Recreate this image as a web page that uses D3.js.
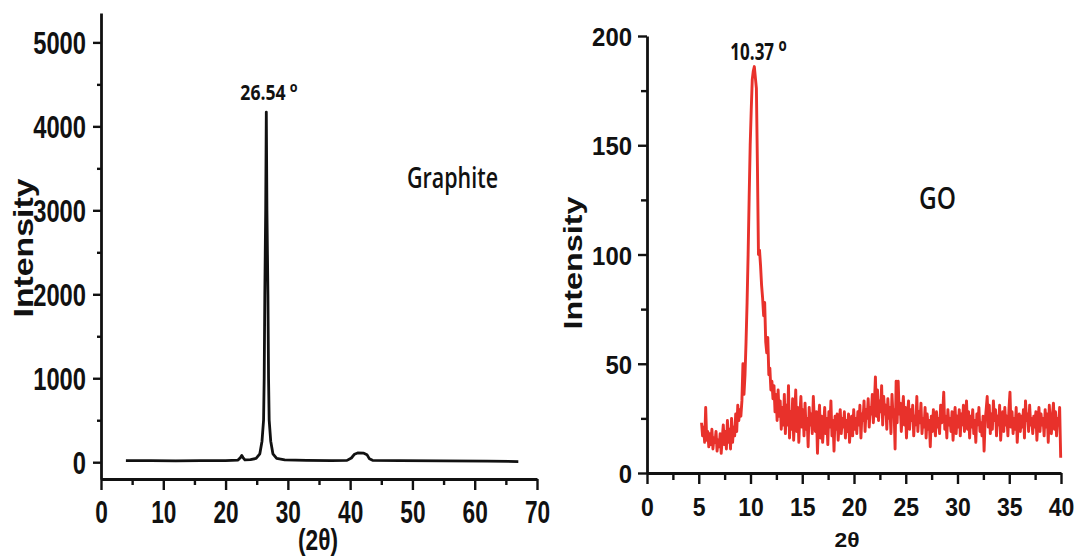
<!DOCTYPE html>
<html>
<head>
<meta charset="utf-8">
<script src="https://cdn.jsdelivr.net/npm/d3@7"></script>
<style>
  body { margin: 0; background: #fff; }
  svg { display: block; }
</style>
</head>
<body>
<svg id="chart" width="1078" height="557"></svg>
<script>
// ---------- Graphite XRD pattern: [2θ (deg), intensity (counts)] ----------
const graphiteScan = [
  [4.0, 20], [8, 18], [12, 17], [16, 18], [20, 20], [22.0, 25], [22.4, 55], [22.6, 80],
  [22.8, 55], [23.1, 28], [24.0, 30], [24.9, 45], [25.5, 100], [25.85, 250], [26.1, 500],
  [26.2, 1000], [26.3, 2000], [26.44, 3000], [26.54, 4170], [26.64, 3000], [26.8, 2000],
  [26.9, 1000], [27.0, 500], [27.25, 250], [27.6, 100], [28.2, 45], [29.5, 28], [33, 22],
  [37, 20], [39.5, 22], [40.2, 50], [40.7, 95], [41.2, 110], [42.2, 108], [42.7, 90],
  [43.1, 40], [43.6, 22], [48, 18], [55, 16], [62, 14], [67, 8]
];
const graphitePeak = 26.54;

// ---------- GO XRD pattern, sampled every 0.1° starting at 5.27° ----------
const goStart = 5.27;
const goStep = 0.1;
const goIntensity = [
  23, 17, 21, 14, 30, 15, 19, 12, 18, 13,
  20, 11, 16, 14, 19, 10, 15, 12, 18, 9,
  16, 22, 13, 19, 11, 24, 14, 20, 11, 25,
  14, 21, 17, 27, 19, 31, 24, 29, 26, 33,
  50, 36, 45, 60, 78, 100, 126, 150, 166, 180,
  184, 186, 181, 176, 140, 100, 102, 95, 86, 80,
  72, 78, 60, 55, 62, 45, 48, 38, 42, 34,
  40, 28, 36, 24, 38, 26, 33, 20, 30, 22,
  36, 18, 31, 22, 40, 16, 28, 20, 34, 15,
  26, 38, 19, 30, 14, 27, 35, 21, 29, 17,
  32, 20, 25, 12, 30, 22, 27, 18, 35, 24,
  19, 28, 9, 24, 31, 16, 26, 14, 22, 30,
  18, 25, 13, 28, 21, 33, 17, 24, 10, 26,
  20, 27, 15, 23, 29, 18, 25, 21, 28, 16,
  24, 19, 27, 14, 22, 26, 17, 29, 20, 25,
  18, 28, 22, 31, 16, 27, 24, 33, 19, 29,
  25, 34, 21, 30, 27, 36, 23, 32, 44, 26,
  38, 24, 33, 28, 40, 22, 35, 27, 31, 20,
  34, 25, 30, 18, 36, 26, 29, 11, 42, 23,
  42, 27, 32, 19, 28, 35, 22, 30, 16, 27,
  33, 20, 29, 24, 31, 17, 26, 22, 35, 19,
  28, 23, 32, 18, 25, 21, 30, 16, 27, 20,
  24, 12, 26, 19, 29, 22, 17, 28, 21, 25,
  18, 31, 23, 27, 37, 20, 26, 16, 29, 22,
  25, 19, 28, 15, 24, 30, 18, 26, 21, 29,
  17, 27, 22, 31, 19, 25, 33, 20, 28, 16,
  26, 21, 29, 18, 24, 14, 27, 22, 30, 19,
  23, 17, 26, 10, 24, 29, 35, 21, 31, 18,
  27, 20, 33, 24, 29, 17, 26, 22, 31, 15,
  24, 28, 19, 30, 22, 26, 17, 29, 37, 21,
  28, 18, 25, 20, 30, 14, 23, 27, 19, 26,
  21, 29, 16, 33, 24, 27, 19, 31, 22, 25,
  18, 26, 21, 28, 15, 24, 30, 19, 27, 22,
  25, 17, 29, 21, 27, 14, 31, 23, 18, 26,
  32, 20, 28, 17, 25, 22, 30, 7
];
const goPeak = 10.37;

// ---------- Tick values ----------
const graphiteXTicks = [0, 10, 20, 30, 40, 50, 60, 70];
const graphiteXMinor = [5, 15, 25, 35, 45, 55, 65];
const graphiteYTicks = [0, 1000, 2000, 3000, 4000, 5000];
const graphiteYMinor = [500, 1500, 2500, 3500, 4500];
const goXTicks = [0, 5, 10, 15, 20, 25, 30, 35, 40];
const goXMinor = [2.5, 7.5, 12.5, 17.5, 22.5, 27.5, 32.5, 37.5];
const goYTicks = [0, 50, 100, 150, 200];
const goYMinor = [25, 75, 125, 175];

// ---------- Text ----------
const yTitle = "Intensity";
const graphiteXTitle = "(2θ)";
const goXTitle = "2θ";
const graphiteName = "Graphite";
const goName = "GO";

const svg = d3.select("#chart");
const AXIS_FONT = "'Liberation Sans', Arial, sans-serif";
const NOTE_FONT = "'Open Sans', 'Noto Sans', sans-serif";
const INK = "#111";

function styleAxis(g, width) {
  g.select(".domain").attr("stroke", INK).attr("stroke-width", width);
  g.selectAll(".tick line").attr("stroke", INK).attr("stroke-width", 2.4);
}

function minorTicks(g) {
  g.select(".domain").remove();
  g.selectAll(".tick line").attr("stroke", INK).attr("stroke-width", 2.4);
}

// Condensed bold tick labels: width per character fixed through textLength
function styleLabels(g, size, charW, opts) {
  g.selectAll(".tick text")
    .attr("fill", INK)
    .style("font-family", AXIS_FONT)
    .style("font-weight", "bold")
    .style("font-size", size + "px")
    .attr("textLength", function () { return this.textContent.length * charW; })
    .attr("lengthAdjust", "spacingAndGlyphs")
    .each(function () {
      const t = d3.select(this);
      if (opts.x !== undefined) t.attr("x", opts.x);
      if (opts.y !== undefined) t.attr("y", opts.y);
      t.attr("dy", opts.dy);
    });
}

// Peak position label with a raised small "o" as the degree mark
function peakLabel(value, x, y, size, sx, oSize, oDx, oDy) {
  const t = svg.append("text")
    .attr("transform", `translate(${x},${y}) scale(${sx},1)`)
    .style("font-family", NOTE_FONT).style("font-weight", "bold")
    .style("font-size", size + "px")
    .attr("fill", INK);
  t.append("tspan").text(value.toFixed(2));
  t.append("tspan").text("o")
    .attr("dx", oDx).attr("dy", oDy)
    .style("font-size", oSize + "px");
}

// ================= Graphite panel =================
{
  const x = d3.scaleLinear().domain([0, 70]).range([101, 537]);
  const y = d3.scaleLinear().domain([-200, 5350]).range([479, 13]);

  svg.append("g").attr("transform", "translate(0,479)")
    .call(d3.axisBottom(x).tickValues(graphiteXMinor).tickSize(6).tickFormat(""))
    .call(minorTicks);
  svg.append("g").attr("transform", "translate(101,0)")
    .call(d3.axisLeft(y).tickValues(graphiteYMinor).tickSize(4).tickFormat(""))
    .call(minorTicks);

  const gx = svg.append("g").attr("transform", "translate(0,479)")
    .call(d3.axisBottom(x).tickValues(graphiteXTicks).tickSize(11).tickSizeOuter(0).tickFormat(d3.format("d")));
  styleAxis(gx, 2.8);
  styleLabels(gx, 32, 12.6, { y: 44, dy: 0 });

  const gy = svg.append("g").attr("transform", "translate(101,0)")
    .call(d3.axisLeft(y).tickValues(graphiteYTicks).tickSize(8).tickSizeOuter(0).tickPadding(7).tickFormat(d3.format("d")));
  styleAxis(gy, 2.8);
  styleLabels(gy, 32, 13.2, { dy: 11.5 });

  const line = d3.line().x(d => x(d[0])).y(d => y(d[1]));
  svg.append("path").datum(graphiteScan)
    .attr("d", line)
    .attr("fill", "none").attr("stroke", INK)
    .attr("stroke-width", 2.8).attr("stroke-linejoin", "round");

  const top = graphiteScan.reduce((a, b) => (b[1] > a[1] ? b : a));
  peakLabel(graphitePeak, x(graphitePeak) - 26, y(top[1]) - 12, 21, 0.84, 15, 5, -8);

  svg.append("text").text(graphiteName)
    .attr("x", 407).attr("y", 188)
    .attr("textLength", 91).attr("lengthAdjust", "spacingAndGlyphs")
    .style("font-family", NOTE_FONT).style("font-weight", 600).style("font-size", "29px")
    .attr("fill", INK);

  svg.append("text").text(yTitle)
    .attr("transform", "translate(33,248) rotate(-90)")
    .attr("text-anchor", "middle")
    .attr("textLength", 139).attr("lengthAdjust", "spacingAndGlyphs")
    .style("font-family", AXIS_FONT).style("font-weight", "bold").style("font-size", "27px")
    .attr("fill", INK);

  svg.append("text").text(graphiteXTitle)
    .attr("x", 318).attr("y", 550)
    .attr("text-anchor", "middle")
    .attr("textLength", 40).attr("lengthAdjust", "spacingAndGlyphs")
    .style("font-family", AXIS_FONT).style("font-weight", "bold").style("font-size", "30px")
    .attr("fill", INK);
}

// ================= GO panel =================
{
  const x = d3.scaleLinear().domain([0, 40]).range([647, 1061]);
  const y = d3.scaleLinear().domain([0, 200]).range([473, 36]);
  const goScan = goIntensity.map((v, i) => [+(goStart + i * goStep).toFixed(2), v]);

  svg.append("g").attr("transform", "translate(0,473)")
    .call(d3.axisBottom(x).tickValues(goXMinor).tickSize(7).tickFormat(""))
    .call(minorTicks);
  svg.append("g").attr("transform", "translate(647,0)")
    .call(d3.axisLeft(y).tickValues(goYMinor).tickSize(6).tickFormat(""))
    .call(minorTicks);

  const line = d3.line().x(d => x(d[0])).y(d => y(d[1]));
  svg.append("path").datum(goScan)
    .attr("d", line)
    .attr("fill", "none").attr("stroke", "#e8312b")
    .attr("stroke-width", 2.9).attr("stroke-linejoin", "round");

  const gx = svg.append("g").attr("transform", "translate(0,473)")
    .call(d3.axisBottom(x).tickValues(goXTicks).tickSize(11).tickSizeOuter(0).tickFormat(d3.format("d")));
  styleAxis(gx, 2.8);
  styleLabels(gx, 26.5, 12.8, { y: 43, dy: 0 });

  const gy = svg.append("g").attr("transform", "translate(647,0)")
    .call(d3.axisLeft(y).tickValues(goYTicks).tickSize(9).tickSizeOuter(0).tickPadding(6).tickFormat(d3.format("d")));
  styleAxis(gy, 2.8);
  styleLabels(gy, 26.5, 13.3, { dy: 9.5 });

  const top = goScan.reduce((a, b) => (b[1] > a[1] ? b : a));
  peakLabel(goPeak, x(goPeak) - 24, y(top[1]) - 6.5, 23, 0.74, 18, 6, -9);

  svg.append("text").text(goName)
    .attr("x", 919).attr("y", 209)
    .attr("textLength", 37).attr("lengthAdjust", "spacingAndGlyphs")
    .style("font-family", NOTE_FONT).style("font-weight", 600).style("font-size", "30px")
    .attr("fill", INK);

  svg.append("text").text(yTitle)
    .attr("transform", "translate(582,263) rotate(-90)")
    .attr("text-anchor", "middle")
    .attr("textLength", 133).attr("lengthAdjust", "spacingAndGlyphs")
    .style("font-family", AXIS_FONT).style("font-weight", "bold").style("font-size", "25px")
    .attr("fill", INK);

  svg.append("text").text(goXTitle)
    .attr("x", 847).attr("y", 547)
    .attr("text-anchor", "middle")
    .attr("textLength", 25).attr("lengthAdjust", "spacingAndGlyphs")
    .style("font-family", AXIS_FONT).style("font-weight", "bold").style("font-size", "21px")
    .attr("fill", INK);
}
</script>
</body>
</html>
